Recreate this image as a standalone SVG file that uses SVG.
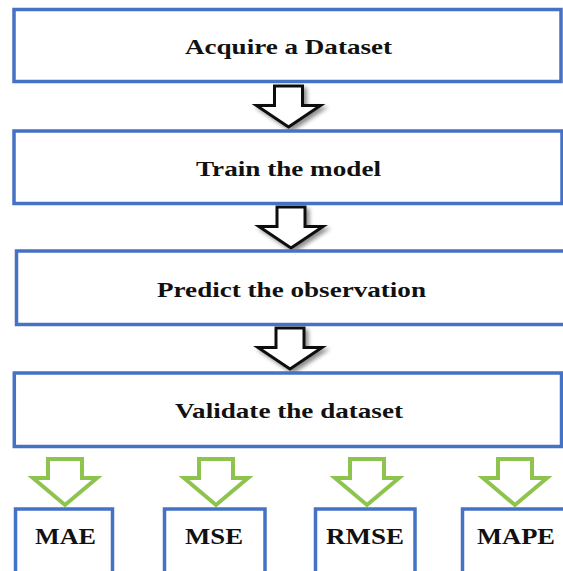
<svg xmlns="http://www.w3.org/2000/svg" width="563" height="571" viewBox="0 0 563 571">
<defs>
<style>
.box{fill:#ffffff;stroke:#4472C4;stroke-width:3.5}
.t{font-family:"Liberation Serif","Times New Roman",serif;font-weight:bold;fill:#111;text-anchor:middle}
.m{font-size:22px}
.s{font-size:24px}
.ba{fill:#ffffff;stroke:#111;stroke-width:3;stroke-linejoin:miter}
.ga{fill:#ffffff;stroke:#8EC44E;stroke-width:4;stroke-linejoin:miter}
</style>
<filter id="sh" x="-30%" y="-30%" width="160%" height="160%">
<feGaussianBlur in="SourceAlpha" stdDeviation="2"/>
<feOffset dx="3" dy="3" result="b"/>
<feComponentTransfer><feFuncA type="linear" slope="0.45"/></feComponentTransfer>
<feMerge><feMergeNode/><feMergeNode in="SourceGraphic"/></feMerge>
</filter>
</defs>
<rect width="563" height="571" fill="#ffffff"/>
<g id="connectors">
<path class="ba" filter="url(#sh)" d="M274.5,86 H302.5 V105.5 H320.5 L288.5,127 L256.5,105.5 H274.5 Z"/>
<path class="ba" filter="url(#sh)" d="M277,207 H305 V226.5 H323 L291,248 L259,226.5 H277 Z"/>
<path class="ba" filter="url(#sh)" d="M276,328 H304 V347.5 H322 L290,369 L258,347.5 H276 Z"/>
<path class="ga" d="M48,459 H82 V478 H97 L65,505 L33,478 H48 Z"/>
<path class="ga" d="M199,459 H233 V478 H248 L216,505 L184,478 H199 Z"/>
<path class="ga" d="M350,459 H384 V478 H399 L367,505 L335,478 H350 Z"/>
<path class="ga" d="M498,459 H532 V478 H547 L515,505 L483,478 H498 Z"/>
</g>
<g id="acquire">
<rect class="box" x="14" y="9.5" width="547" height="72"/>
<text class="t m" x="288.5" y="53.5" textLength="207" lengthAdjust="spacingAndGlyphs">Acquire a Dataset</text>
</g>
<g id="train">
<rect class="box" x="14" y="131" width="548" height="72.5"/>
<text class="t m" x="288.5" y="175.5" textLength="185" lengthAdjust="spacingAndGlyphs">Train the model</text>
</g>
<g id="predict">
<rect class="box" x="16.5" y="251" width="560" height="73.5"/>
<text class="t m" x="291.5" y="296.5" textLength="269" lengthAdjust="spacingAndGlyphs">Predict the observation</text>
</g>
<g id="validate">
<rect class="box" x="14.3" y="373" width="547.2" height="73.5"/>
<text class="t m" x="289" y="417.5" textLength="228" lengthAdjust="spacingAndGlyphs">Validate the dataset</text>
</g>
<g id="mae">
<rect class="box" x="15.5" y="509" width="97" height="80"/>
<text class="t s" x="65.5" y="543.5" textLength="61" lengthAdjust="spacingAndGlyphs">MAE</text>
</g>
<g id="mse">
<rect class="box" x="164.5" y="509" width="100.5" height="80"/>
<text class="t s" x="214" y="543.5" textLength="58" lengthAdjust="spacingAndGlyphs">MSE</text>
</g>
<g id="rmse">
<rect class="box" x="315.5" y="509" width="99.5" height="80"/>
<text class="t s" x="365" y="543.5" textLength="78" lengthAdjust="spacingAndGlyphs">RMSE</text>
</g>
<g id="mape">
<rect class="box" x="462.5" y="509" width="110" height="80"/>
<text class="t s" x="516" y="543.5" textLength="78" lengthAdjust="spacingAndGlyphs">MAPE</text>
</g>
</svg>
